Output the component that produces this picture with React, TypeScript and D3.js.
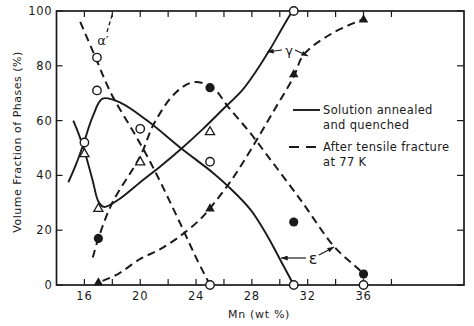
import React from 'react';
import * as d3 from 'd3';

// curves: [Mn wt%, volume %]
const alphaDashed = [[15.7, 96], [16.8, 83], [17.9, 70], [19.5, 56], [20.5, 47], [21.5, 37], [23, 21], [24, 10], [25, 0]];
const epsSolid = [[14.85, 37.5], [15.4, 44], [15.9, 51], [16.6, 61.5], [17.3, 68], [18.6, 66.5], [20.5, 60], [22.9, 50], [25.2, 41], [26.3, 36], [27.9, 27.5], [29.1, 18], [30, 9.5], [31, 0]];
const gammaSolid = [[15.2, 60], [15.6, 55], [16, 49], [16.6, 38], [17, 30.5], [17.4, 28.5], [18.4, 31], [20, 37.5], [21.5, 43.5], [23, 50], [24.5, 57], [26, 64.5], [27.3, 71], [28.3, 78], [29.3, 86], [30.2, 94], [30.9, 100]];
const epsDashed = [[16.6, 10], [17, 17], [18, 30], [20, 47], [21, 59], [22.5, 70], [23.8, 74], [25.2, 72], [26.3, 65], [27.8, 56], [29, 48], [31.5, 31], [33.9, 14], [35.6, 6], [36, 4]];
const gammaDashed = [[17.3, 1.5], [18.4, 4], [20, 9.5], [21.4, 13], [22.9, 18], [24.3, 24], [25, 28], [26.5, 38], [28, 50], [29.5, 63], [31, 76], [31.7, 84], [33.8, 92], [36, 97]];

const openCircles = [[16, 52], [16.9, 83], [16.9, 71], [20, 57], [25, 45], [31, 100], [25, 0], [31, 0], [36, 0]];
const openTriangles = [[16, 48], [17, 28], [20, 45], [25, 56]];
const filledCircles = [[17, 17], [25, 72], [31, 23], [36, 4]];
const filledTriangles = [[17, 1], [25, 28], [31, 77], [36, 97]];

const xTicks = [16, 20, 24, 28, 32, 36];
const xMinor = [16, 18, 20, 22, 24, 26, 28, 30, 32, 34, 36, 38];
const yTicks = [0, 20, 40, 60, 80, 100];

const ink = '#1a1a1a';
const font = 'DejaVu Sans';

export default function App() {
  const x = d3.scaleLinear().domain([14, 43.2]).range([56.5, 464]);
  const y = d3.scaleLinear().domain([0, 100]).range([285, 11]);
  const line = d3.line<number[]>().x(d => x(d[0])).y(d => y(d[1])).curve(d3.curveCatmullRom.alpha(0.5));
  const dash = '8,5';
  const tri = (cx: number, cy: number, r: number) =>
    `M${cx},${cy - r} L${cx + r * 0.95},${cy + r * 0.65} L${cx - r * 0.95},${cy + r * 0.65} Z`;

  return (
    <svg width={474} height={326} style={{ position: 'absolute', left: 0, top: 0, background: '#fff' }}>
      <defs>
        <marker id="arr" viewBox="0 0 8 6" refX="8" refY="3" markerWidth="7" markerHeight="5" orient="auto" markerUnits="userSpaceOnUse">
          <path d="M0,0 L8,3 L0,6 Z" fill={ink} />
        </marker>
      </defs>
      <rect x={x(14)} y={y(100)} width={x(43.2) - x(14)} height={y(0) - y(100)} fill="none" stroke={ink} strokeWidth={1.7} />
      {xMinor.map(t => (
        <g key={'xt' + t}>
          <line x1={x(t)} x2={x(t)} y1={y(0)} y2={y(0) - 6} stroke={ink} strokeWidth={1.2} />
          <line x1={x(t)} x2={x(t)} y1={y(100)} y2={y(100) + 6} stroke={ink} strokeWidth={1.2} />
        </g>
      ))}
      {yTicks.map(t => (
        <g key={'yt' + t}>
          <line x1={x(14)} x2={x(14) + 6} y1={y(t)} y2={y(t)} stroke={ink} strokeWidth={1.2} />
          <line x1={x(43.2)} x2={x(43.2) - 7} y1={y(t)} y2={y(t)} stroke={ink} strokeWidth={1.2} />
          <text x={x(14) - 4} y={y(t) + 4} textAnchor="end" fontFamily={font} fontSize={11.5} letterSpacing={0.8} fill={ink}>{t}</text>
        </g>
      ))}
      {xTicks.map(t => (
        <text key={'xl' + t} x={x(t)} y={300} textAnchor="middle" fontFamily={font} fontSize={11.5} letterSpacing={0.8} fill={ink}>{t}</text>
      ))}
      <text x={259} y={318} textAnchor="middle" fontFamily={font} fontSize={11} letterSpacing={0.7} fill={ink}>Mn (wt %)</text>
      <text transform="translate(21,142) rotate(-90)" textAnchor="middle" fontFamily={font} fontSize={11} letterSpacing={0.5} fill={ink}>Volume Fraction of Phases (%)</text>

      <path d={line(epsSolid) || ''} fill="none" stroke={ink} strokeWidth={1.9} />
      <path d={line(gammaSolid) || ''} fill="none" stroke={ink} strokeWidth={1.9} />
      <path d={line(alphaDashed) || ''} fill="none" stroke={ink} strokeWidth={2} strokeDasharray={dash} />
      <path d={line(epsDashed) || ''} fill="none" stroke={ink} strokeWidth={2} strokeDasharray={dash} />
      <path d={line(gammaDashed) || ''} fill="none" stroke={ink} strokeWidth={2} strokeDasharray={dash} />

      {openCircles.map((d, i) => (
        <circle key={'oc' + i} cx={x(d[0])} cy={y(d[1])} r={4.2} fill="#fff" stroke={ink} strokeWidth={1.4} />
      ))}
      {openTriangles.map((d, i) => (
        <path key={'ot' + i} d={tri(x(d[0]), y(d[1]), 4.8)} fill="#fff" stroke={ink} strokeWidth={1.3} />
      ))}
      {filledCircles.map((d, i) => (
        <circle key={'fc' + i} cx={x(d[0])} cy={y(d[1])} r={4.6} fill={ink} />
      ))}
      {filledTriangles.map((d, i) => (
        <path key={'ft' + i} d={tri(x(d[0]), y(d[1]), 5)} fill={ink} />
      ))}

      {/* phase labels */}
      <text x={103} y={45} textAnchor="middle" fontFamily={font} fontSize={13} fill={ink}>α′</text>
      <path d="M107,32 Q110,22 113,12" fill="none" stroke={ink} strokeWidth={1.3} strokeDasharray="4,3" />
      <text x={289} y={55} textAnchor="middle" fontFamily={font} fontSize={13} fill={ink}>γ</text>
      <line x1={282} y1={50} x2={267} y2={52} stroke={ink} strokeWidth={1.2} markerEnd="url(#arr)" />
      <line x1={295} y1={50} x2={308} y2={56} stroke={ink} strokeWidth={1.2} markerEnd="url(#arr)" />
      <text x={313} y={264} textAnchor="middle" fontFamily={font} fontSize={16} fill={ink}>ε</text>
      <line x1={306} y1={258} x2={281} y2={258} stroke={ink} strokeWidth={1.2} markerEnd="url(#arr)" />
      <line x1={319} y1={255} x2={334} y2={247} stroke={ink} strokeWidth={1.2} markerEnd="url(#arr)" />

      {/* legend */}
      <line x1={293} x2={320} y1={110} y2={110} stroke={ink} strokeWidth={1.9} />
      <line x1={289} x2={318} y1={147} y2={147} stroke={ink} strokeWidth={2} strokeDasharray="10,7" />
      <text fontFamily={font} fontSize={11.5} letterSpacing={0.35} fill={ink}>
        <tspan x={323} y={114}>Solution annealed</tspan>
        <tspan x={323} y={129}>and quenched</tspan>
        <tspan x={323} y={151}>After tensile fracture</tspan>
        <tspan x={323} y={166}>at 77 K</tspan>
      </text>
    </svg>
  );
}
